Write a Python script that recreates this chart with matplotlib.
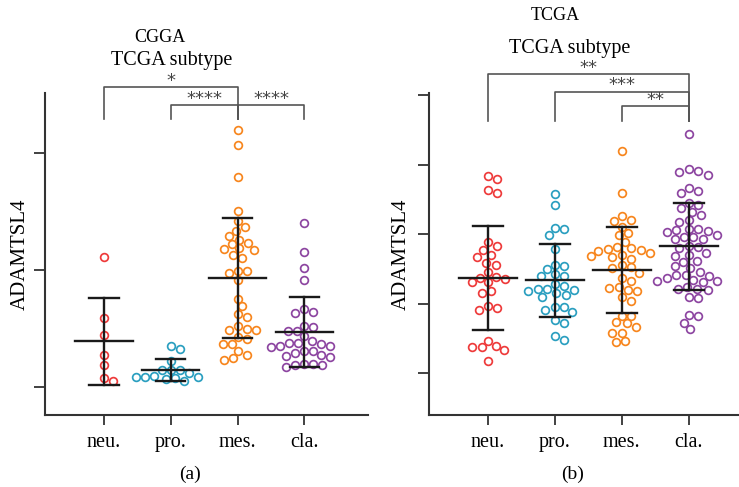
import numpy as np
import matplotlib
matplotlib.use("Agg")
from matplotlib import pyplot as plt

plt.rcParams['font.family'] = ['Liberation Serif', 'DejaVu Serif']

groups = ['neu.', 'pro.', 'mes.', 'cla.']
colors = ['#ee3b3b', '#2b9fc0', '#f7861e', '#8d46a1']

# panel (a) CGGA, relative ADAMTSL4 values
cgga_neu = [1.11, 0.587, 0.44, 0.27, 0.185, 0.074, 0.054]
cgga_pro = [0.35, 0.322, 0.222, 0.142, 0.142, 0.142, 0.117, 0.088, 0.088, 0.083,
            0.077, 0.094, 0.065, 0.048]
cgga_mes = [2.194, 2.063, 1.789, 1.498, 1.413, 1.328, 1.362, 1.291, 1.228, 1.22,
            1.256, 1.182, 1.171, 1.10, 1.128, 1.179, 0.994, 0.977, 0.994, 0.912,
            0.753, 0.690, 0.624, 0.601, 0.498, 0.487, 0.487, 0.516, 0.422, 0.408,
            0.368, 0.368, 0.274, 0.308, 0.231, 0.245]
cgga_cla = [1.399, 1.148, 1.014, 0.915, 0.664, 0.630, 0.638, 0.510, 0.481, 0.481,
            0.521, 0.436, 0.345, 0.365, 0.310, 0.350, 0.379, 0.396, 0.350, 0.373,
            0.274, 0.310, 0.265, 0.288, 0.254, 0.197, 0.188, 0.168, 0.188, 0.197]

# panel (b) TCGA
tcga_neu = [2.839, 2.791, 2.590, 2.637, 1.885, 1.832, 1.774, 1.669, 1.702, 1.558,
            1.591, 1.462, 1.390, 1.357, 1.309, 1.309, 1.376, 1.189, 1.151, 0.968,
            0.944, 0.911, 0.397, 0.374, 0.335, 0.374, 0.465, 0.177]
tcga_pro = [2.580, 2.422, 2.086, 1.990, 2.072, 1.784, 1.496, 1.544, 1.558, 1.400,
            1.400, 1.433, 1.256, 1.281, 1.209, 1.189, 1.127, 1.094, 1.151, 1.199,
            1.209, 0.950, 0.886, 0.911, 0.958, 0.767, 0.728, 0.479, 0.537]
tcga_mes = [3.189, 2.590, 2.263, 2.196, 2.206, 2.110, 2.014, 1.986, 1.894, 1.799,
            1.774, 1.736, 1.688, 1.678, 1.702, 1.765, 1.784, 1.813, 1.650, 1.554,
            1.511, 1.448, 1.525, 1.367, 1.328, 1.223, 1.189, 1.199, 1.246, 1.094,
            1.045, 0.829, 0.829, 0.719, 0.671, 0.734, 0.576, 0.585, 0.455, 0.469]
tcga_cla = [3.434, 2.911, 2.853, 2.901, 2.940, 2.623, 2.599, 2.666, 2.446, 2.378,
            2.417, 2.325, 2.278, 2.206, 2.182, 2.076, 2.047, 1.990, 2.037, 2.062,
            2.081, 1.957, 1.928, 1.937, 1.966, 1.813, 1.832, 1.803, 1.736, 1.688,
            1.702, 1.616, 1.606, 1.544, 1.520, 1.462, 1.405, 1.414, 1.376, 1.410,
            1.333, 1.324, 1.309, 1.343, 1.246, 1.213, 1.199, 1.213, 1.079, 1.103,
            0.839, 0.825, 0.729, 0.638]

cgga_sig = [(1, 3, '*'), (2, 3, '****'), (3, 4, '****')]
tcga_sig = [(1, 4, '**'), (2, 4, '***'), (3, 4, '**')]


def swarm_offsets(ax, xc, vals, d=8.6, step=1.5):
    pts = ax.transData.transform(np.column_stack([np.full(len(vals), xc), vals]))
    ppu = ax.transData.transform((xc + 1, 0))[0] - ax.transData.transform((xc, 0))[0]
    placed = []
    offs = np.zeros(len(vals))
    for i in np.argsort(vals)[::-1]:
        y = pts[i, 1]
        chosen = 0.0
        for k in range(100):
            found = False
            for s in ([0] if k == 0 else [1, -1]):
                o = s * k * step
                if all((o - px) ** 2 + (y - py) ** 2 >= d * d for px, py in placed):
                    chosen = o
                    found = True
                    break
            if found:
                break
        placed.append((chosen, y))
        offs[i] = chosen / ppu
    return offs


def draw_panel(ax, data, ylim, ticks, sig, sig_y, sig_drop, star_dy):
    ax.set_xlim(0.12, 4.95)
    ax.set_ylim(*ylim)
    for i, vals in enumerate(data):
        xc = i + 1
        vals = np.array(vals)
        offs = swarm_offsets(ax, xc, vals)
        ax.scatter(xc + offs, vals, s=31, facecolors='white', edgecolors=colors[i],
                   linewidths=1.25, zorder=2)
        m = vals.mean()
        sd = vals.std(ddof=1)
        ax.plot([xc - 0.43, xc + 0.43], [m, m], color='#1a1a1a', lw=1.7, zorder=3)
        ax.plot([xc, xc], [m - sd, m + sd], color='#1a1a1a', lw=1.7, zorder=3)
        for e in (m - sd, m + sd):
            ax.plot([xc - 0.22, xc + 0.22], [e, e], color='#1a1a1a', lw=1.7, zorder=3)
    for (a, b, lab), yy in zip(sig, sig_y):
        ax.plot([a, a, b, b], [sig_drop, yy, yy, sig_drop], color='#555555', lw=1.2,
                clip_on=False)
    for a, b, lab, ty in star_dy:
        ax.text((a + b) / 2, ty, lab, ha='center', va='center', fontsize=13,
                color='#444444', family='DejaVu Sans', clip_on=False)
    ax.set_xticks(range(1, 5))
    ax.set_xticklabels(groups, fontsize=14.5)
    ax.set_yticks(ticks)
    ax.set_yticklabels([])
    ax.tick_params(axis='y', length=8, width=1.3, color='#333333')
    ax.tick_params(axis='x', length=7, width=1.3, color='#333333', pad=6)
    for sp in ['top', 'right']:
        ax.spines[sp].set_visible(False)
    for sp in ['left', 'bottom']:
        ax.spines[sp].set_linewidth(1.5)
        ax.spines[sp].set_color('#333333')
    ax.set_ylabel('ADAMTSL4', fontsize=15)


fig = plt.figure(figsize=(7.39, 4.87), dpi=100)
ax1 = fig.add_axes([45 / 739, 1 - 415 / 487, 323 / 739, 322 / 487])
ax2 = fig.add_axes([429 / 739, 1 - 415 / 487, 310 / 739, 322 / 487])

draw_panel(ax1, [cgga_neu, cgga_pro, cgga_mes, cgga_cla], (-0.24, 2.51), [0, 1, 2],
           cgga_sig, [2.56, 2.41, 2.41], 2.29,
           [(1, 3, '*', 2.61), (2, 3, '****', 2.46), (3, 4, '****', 2.46)])
draw_panel(ax2, [tcga_neu, tcga_pro, tcga_mes, tcga_cla], (-0.6, 4.03), [0, 1, 2, 3, 4],
           tcga_sig, [4.30, 4.05, 3.84], 3.63,
           [(1, 4, '**', 4.39), (2, 4, '***', 4.14), (3, 4, '**', 3.93)])
ax2.set_xlim(0.12, 4.75)
ax1.yaxis.set_label_coords(-0.046, 0.5)
ax2.yaxis.set_label_coords(-0.058, 0.5)

fig.text(160 / 739, 1 - 38 / 487, 'CGGA', ha='center', va='center', fontsize=13)
fig.text(172 / 739, 1 - 60 / 487, 'TCGA subtype', ha='center', va='center', fontsize=14.5)
fig.text(555 / 739, 1 - 15 / 487, 'TCGA', ha='center', va='center', fontsize=13)
fig.text(570 / 739, 1 - 48 / 487, 'TCGA subtype', ha='center', va='center', fontsize=14.5)
fig.text(190 / 739, 1 - 474 / 487, '(a)', ha='center', va='center', fontsize=14)
fig.text(573 / 739, 1 - 474 / 487, '(b)', ha='center', va='center', fontsize=14)

fig.savefig('out.png', dpi=100)
